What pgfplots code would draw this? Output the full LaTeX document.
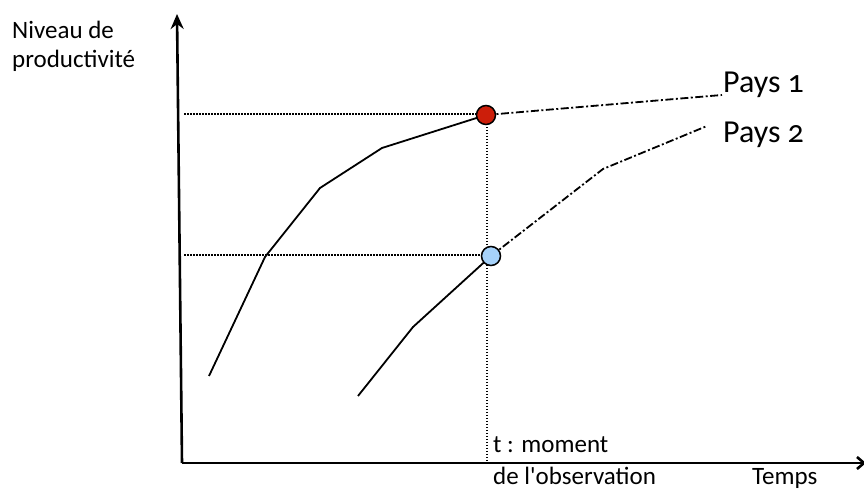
\documentclass[border=0pt]{standalone}
\usepackage{fontspec}
\setmainfont{Carlito}[Numbers=OldStyle]
\usepackage{pgfplots}
\pgfplotsset{compat=1.18}
\usetikzlibrary{arrows.meta}
\definecolor{rouge}{RGB}{204,30,10}
\definecolor{bleu}{RGB}{166,210,250}
\begin{document}
\begin{tikzpicture}
\begin{axis}[
  x=1bp, y=1bp,
  xmin=0, xmax=864, ymin=0, ymax=490,
  axis lines=none, clip=false,
  ticks=none,
]
% axes
\addplot[black, line width=2.6bp, -{Stealth[length=15bp,width=13bp]}] coordinates {(182,27) (177,476)};
\addplot[black, line width=2.6bp, -{Straight Barb[length=7bp,width=12bp]}] coordinates {(182,27) (866,27)};
% dotted guides
\addplot[black, line width=1.5bp, dash pattern=on 1.5bp off 1.5bp] coordinates {(184,376) (478,376)};
\addplot[black, line width=1.5bp, dash pattern=on 1.5bp off 1.5bp] coordinates {(184,235) (481,235)};
\addplot[black, line width=1.5bp, dash pattern=on 1.5bp off 1.5bp] coordinates {(487,366) (487,29)};
% Pays 1
\addplot[black, line width=1.8bp] coordinates {(209,114) (265,233) (320,302) (382,342) (486,375)};
\addplot[black, line width=1.8bp, dash pattern=on 8bp off 2.5bp on 2bp off 2.5bp] coordinates {(486,375) (722,395)};
% Pays 2
\addplot[black, line width=1.8bp] coordinates {(358,94) (413,163) (491,234)};
\addplot[black, line width=1.8bp, dash pattern=on 8bp off 2.5bp on 2bp off 2.5bp] coordinates {(491,234) (603,321) (707,364)};
% observation points
\addplot[only marks, mark=*, mark size=9.5bp, mark options={fill=rouge, draw=black, line width=1.5bp}] coordinates {(486,375)};
\addplot[only marks, mark=*, mark size=9.5bp, mark options={fill=bleu, draw=black, line width=1.5bp}] coordinates {(491,234)};
% labels
\node[anchor=base west, font=\fontsize{32bp}{36bp}\selectfont, inner sep=0] at (axis cs:723,397) {Pays 1};
\node[anchor=base west, font=\fontsize{32bp}{36bp}\selectfont, inner sep=0] at (axis cs:723,347) {Pays 2};
\node[anchor=base west, font=\fontsize{25bp}{29bp}\selectfont, inner sep=0] at (axis cs:12,451) {Niveau de};
\node[anchor=base west, font=\fontsize{25bp}{29bp}\selectfont, inner sep=0] at (axis cs:12,422) {productivité};
\node[anchor=base west, font=\fontsize{25bp}{29bp}\selectfont, inner sep=0] at (axis cs:493,37) {t : moment};
\node[anchor=base west, font=\fontsize{25bp}{29bp}\selectfont, inner sep=0] at (axis cs:493,5) {de l\textquotesingle observation};
\node[anchor=base west, font=\fontsize{25bp}{29bp}\selectfont, inner sep=0] at (axis cs:752,5) {Temps};
\end{axis}
\pgfresetboundingbox
\path[use as bounding box] (current axis.south west) rectangle (current axis.north east);
\end{tikzpicture}
\end{document}
